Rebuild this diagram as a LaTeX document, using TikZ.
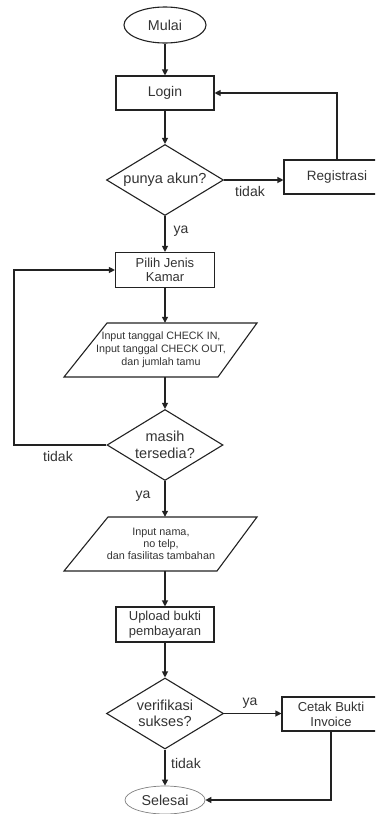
\documentclass[tikz,border=0pt]{standalone}
\usepackage{fontspec}
\setmainfont{Liberation Sans}
\usetikzlibrary{shapes.geometric,arrows.meta}
\definecolor{ink}{HTML}{222222}
\definecolor{txt}{HTML}{333333}
\tikzset{
  base/.style={draw=ink, line width=1.1pt, text=txt, inner sep=0pt, align=center},
  procbox/.style={base, rectangle, font=\fontsize{13}{14.5}\selectfont},
  decide/.style={base, diamond, shape aspect=1.65, font=\fontsize{14.5}{16.5}\selectfont},
  iobox/.style={rectangle, text=txt, inner sep=0pt, align=center, minimum width=150pt, minimum height=54pt,
     font=\fontsize{10.7}{13}\selectfont},
  ioframe/.style={draw=ink, line width=1.1pt, line join=miter},
  term/.style={base, ellipse, font=\fontsize{14.3}{16}\selectfont},
  flow/.style={draw=ink, line width=1.1pt, -{Triangle[length=6pt,width=6pt]}},
  lbl/.style={text=txt, inner sep=0pt, font=\fontsize{14}{16}\selectfont}
}
\begin{document}
\begin{tikzpicture}[x=1pt,y=-1pt]
\useasboundingbox (0,0) rectangle (375,814);
\clip (0,0) rectangle (375,814);
\node[term, minimum width=82pt, minimum height=36pt] (mulai) at (165,25) {Mulai};
\node[procbox, minimum width=98pt, minimum height=34pt, font=\fontsize{14}{16}\selectfont] (login) at (165,93) {Login};
\node[decide, minimum width=117pt, minimum height=71pt] (akun) at (165,180) {punya akun?};
\node[procbox, minimum width=106pt, minimum height=34pt, font=\fontsize{13.5}{16}\selectfont] (reg) at (337,177) {Registrasi};
\node[procbox, minimum width=99pt, minimum height=35pt] (pilih) at (165,270) {Pilih Jenis\\Kamar};
\node[iobox] (in1) at (161,350) {Input tanggal CHECK IN,\\Input tanggal CHECK OUT,\\dan jumlah tamu};
\draw[ioframe] (107,323) -- (257,323) -- (218,377) -- (64,377) -- cycle;
\node[decide, minimum width=116pt, minimum height=71pt] (sedia) at (165,445) {masih\\tersedia?};
\node[iobox, font=\fontsize{10.8}{12}\selectfont] (in2) at (161,544) {Input nama,\\no telp,\\dan fasilitas tambahan};
\draw[ioframe] (108,517) -- (257,517) -- (217,571) -- (64,571) -- cycle;
\node[procbox, minimum width=98pt, minimum height=35pt] (upload) at (165,624.5) {Upload bukti\\pembayaran};
\node[decide, minimum width=117pt, minimum height=71pt, font=\fontsize{14.5}{16}\selectfont] (verif) at (165,713.5) {verifikasi\\sukses?};
\node[procbox, minimum width=98pt, minimum height=34pt, font=\fontsize{13}{15}\selectfont] (cetak) at (331,714) {Cetak Bukti\\Invoice};
\node[term, draw=gray, line width=0.7pt, minimum width=80pt, minimum height=28pt] (selesai) at (165,800) {Selesai};
\coordinate (loopL) at (14,445);
\draw[flow] (mulai) -- (login);
\draw[flow] (login) -- (akun);
\draw[flow] (akun.east) -- (akun.east -| reg.west);
\draw[flow] (reg.north) |- (login.east);
\draw[flow] (akun) -- (pilih);
\draw[flow] (pilih.south) -- (pilih.south |- in1.north);
\draw[flow] (pilih.south |- in1.south) -- (sedia.north);
\draw[flow] (sedia.west) -- (loopL) |- (pilih.west);
\draw[flow] (sedia) -- (sedia.south |- in2.north);
\draw[flow] (sedia.south |- in2.south) -- (upload.north);
\draw[flow] (upload) -- (verif);
\draw[flow] (verif.east) -- (verif.east -| cetak.west);
\draw[flow] (verif) -- (selesai);
\draw[flow] (cetak.south) |- (selesai.east);
\node[lbl] (t1) at (250,191) {tidak};
\node[lbl] (y1) at (181,231) {ya};
\node[lbl] (t2) at (58,456) {tidak};
\node[lbl] (y2) at (143,496) {ya};
\node[lbl] (y3) at (250,703) {ya};
\node[lbl] (t3) at (186,763) {tidak};
\end{tikzpicture}
\end{document}
